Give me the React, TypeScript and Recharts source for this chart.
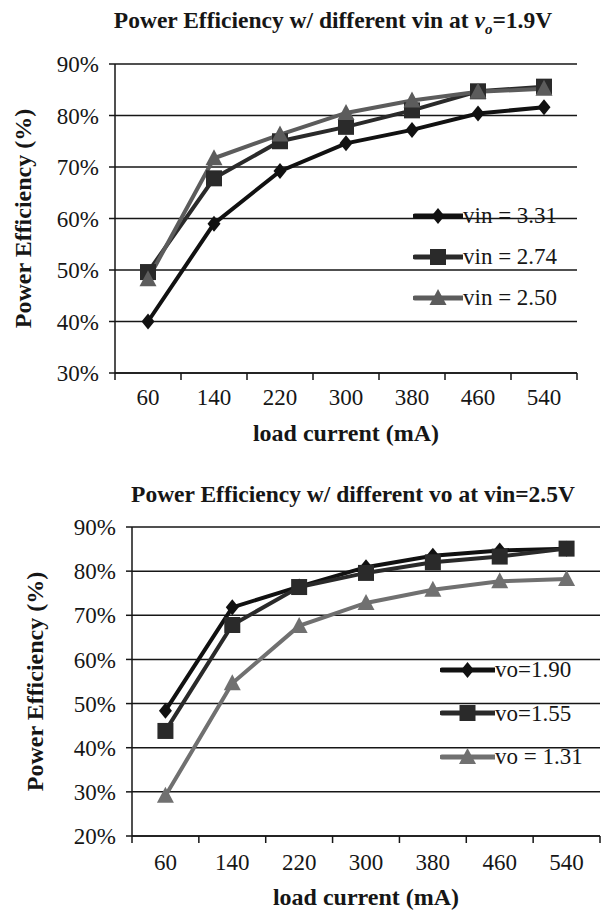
import React from "react";
import { LineChart, Line, XAxis, YAxis, CartesianGrid, Legend } from "recharts";

// load current (mA), category centres and the band edges between them
const loads = [60, 140, 220, 300, 380, 460, 540];
const bandEdges = [20, 100, 180, 260, 340, 420, 500, 580];

// top chart: efficiency (%) for different vin at vo = 1.9V
const vin331 = [40, 59, 69.2, 74.6, 77.2, 80.4, 81.6];
const vin274 = [49.6, 67.8, 75, 77.8, 81, 84.7, 85.6];
const vin250 = [48.2, 71.7, 76.3, 80.5, 82.9, 84.6, 85.2];

// bottom chart: efficiency (%) for different vo at vin = 2.5V
const vo190 = [48.4, 71.8, 76.5, 80.9, 83.5, 84.7, 85.1];
const vo155 = [43.8, 67.8, 76.4, 79.6, 82, 83.3, 85.1];
const vo131 = [29.1, 54.6, 67.6, 72.8, 75.8, 77.7, 78.2];

const topYTicks = [30, 40, 50, 60, 70, 80, 90];
const bottomYTicks = [20, 30, 40, 50, 60, 70, 80, 90];

const FONT = '"Liberation Serif", "Times New Roman", serif';
const INK = "#161616";

type SeriesDef = { key: string; name: string; color: string; shape: "diamond" | "square" | "triangle" };

const topSeries: SeriesDef[] = [
  { key: "a", name: "vin = 3.31", color: "#111111", shape: "diamond" },
  { key: "b", name: "vin = 2.74", color: "#2a2a2a", shape: "square" },
  { key: "c", name: "vin = 2.50", color: "#5c5c5c", shape: "triangle" },
];

const bottomSeries: SeriesDef[] = [
  { key: "a", name: "vo=1.90", color: "#111111", shape: "diamond" },
  { key: "b", name: "vo=1.55", color: "#2a2a2a", shape: "square" },
  { key: "c", name: "vo = 1.31", color: "#707070", shape: "triangle" },
];

const topData = loads.map((load, i) => ({ load, a: vin331[i], b: vin274[i], c: vin250[i] }));
const bottomData = loads.map((load, i) => ({ load, a: vo190[i], b: vo155[i], c: vo131[i] }));

function MarkerShape({ cx, cy, shape, color }: { cx: number; cy: number; shape: string; color: string }) {
  if (cx == null || cy == null) return null;
  if (shape === "diamond") {
    return <polygon points={`${cx},${cy - 8} ${cx + 6.5},${cy} ${cx},${cy + 8} ${cx - 6.5},${cy}`} fill={color} />;
  }
  if (shape === "square") {
    return <rect x={cx - 8} y={cy - 8} width={16} height={16} fill={color} />;
  }
  return <polygon points={`${cx},${cy - 9} ${cx + 8.5},${cy + 7} ${cx - 8.5},${cy + 7}`} fill={color} />;
}

// x axis: labels at band centres, tick marks at band edges
const makeXTick = (labelGap: number) => (props: any) => {
  const { x, y, payload } = props;
  if (bandEdges.includes(payload.value)) {
    return <line x1={x} y1={y} x2={x} y2={y + 7} stroke={INK} strokeWidth={1.5} />;
  }
  return (
    <text x={x} y={y + labelGap} dy="0.35em" textAnchor="middle" fontFamily={FONT} fontSize={23} fill={INK}>
      {payload.value}
    </text>
  );
};

const makeXTitle = (gap: number) => (props: any) => {
  const { viewBox } = props;
  return (
    <text
      x={viewBox.x + viewBox.width / 2}
      y={viewBox.y + gap}
      dy="0.35em"
      textAnchor="middle"
      fontFamily={FONT}
      fontWeight="bold"
      fontSize={24}
      fill={INK}
    >
      load current (mA)
    </text>
  );
};

const makeYTitle = (cx: number) => (props: any) => {
  const { viewBox } = props;
  const cy = viewBox.y + viewBox.height / 2;
  return (
    <text
      x={cx}
      y={cy}
      dy="0.35em"
      transform={`rotate(-90 ${cx} ${cy})`}
      textAnchor="middle"
      fontFamily={FONT}
      fontWeight="bold"
      fontSize={24}
      fill={INK}
    >
      Power  Efficiency (%)
    </text>
  );
};

const makeLegend = (series: SeriesDef[], rowH: number, iconW: number) => () => (
  <div style={{ fontFamily: FONT, fontSize: 23, color: INK }}>
    {series.map((s) => (
      <div key={s.key} style={{ display: "flex", alignItems: "center", height: rowH }}>
        <svg width={iconW} height={20} style={{ display: "block" }}>
          <line x1={2} y1={10} x2={iconW} y2={10} stroke={s.color} strokeWidth={5} strokeLinecap="round" />
          <MarkerShape cx={iconW / 2} cy={10} shape={s.shape} color={s.color} />
        </svg>
        <span style={{ whiteSpace: "pre", lineHeight: 1 }}>{s.name}</span>
      </div>
    ))}
  </div>
);

type ChartProps = {
  data: any[];
  series: SeriesDef[];
  yTicks: number[];
  height: number;
  margin: { top: number; right: number; left: number; bottom: number };
  yAxisWidth: number;
  xAxisHeight: number;
  labelGap: number;
  xTitleGap: number;
  yTitleX: number;
  legendPos: { left: number; top: number };
  legendRow: number;
  legendIcon: number;
};

function EfficiencyChart(p: ChartProps) {
  return (
    <LineChart width={601} height={p.height} data={p.data} margin={p.margin}>
      <CartesianGrid vertical={false} stroke={INK} strokeWidth={1.5} />
      <XAxis
        dataKey="load"
        type="number"
        domain={[bandEdges[0], bandEdges[bandEdges.length - 1]]}
        ticks={[...bandEdges, ...loads].sort((a, b) => a - b)}
        interval={0}
        height={p.xAxisHeight}
        tickLine={false}
        tickSize={0}
        tickMargin={0}
        tick={makeXTick(p.labelGap)}
        axisLine={{ stroke: INK, strokeWidth: 1.5 }}
        label={{ content: makeXTitle(p.xTitleGap) }}
      />
      <YAxis
        type="number"
        domain={[p.yTicks[0], p.yTicks[p.yTicks.length - 1]]}
        ticks={p.yTicks}
        interval={0}
        width={p.yAxisWidth}
        tickSize={6}
        tickMargin={10}
        tickFormatter={(v: number) => `${v}%`}
        tick={{ fontFamily: FONT, fontSize: 23, fill: INK }}
        tickLine={{ stroke: INK, strokeWidth: 1.5 }}
        axisLine={{ stroke: INK, strokeWidth: 1.5 }}
        label={{ content: makeYTitle(p.yTitleX) }}
      />
      <Legend
        layout="vertical"
        align="center"
        verticalAlign="middle"
        content={makeLegend(p.series, p.legendRow, p.legendIcon)}
        wrapperStyle={{ left: p.legendPos.left, top: p.legendPos.top, width: "auto" }}
      />
      {p.series.map((s) => (
        <Line
          key={s.key}
          dataKey={s.key}
          name={s.name}
          stroke={s.color}
          strokeWidth={4}
          isAnimationActive={false}
          dot={(d: any) => <MarkerShape key={`${s.key}-${d.index}`} cx={d.cx} cy={d.cy} shape={s.shape} color={s.color} />}
          activeDot={false}
        />
      ))}
    </LineChart>
  );
}

const titleStyle: React.CSSProperties = {
  position: "absolute",
  fontFamily: FONT,
  fontWeight: "bold",
  fontSize: 23.5,
  color: INK,
  whiteSpace: "nowrap",
  transform: "translate(-50%, -50%)",
  lineHeight: 1,
};

export default function App() {
  return (
    <div style={{ position: "absolute", left: 0, top: 0, width: 601, height: 910, background: "#fff", overflow: "hidden" }}>
      <div style={{ ...titleStyle, left: 333, top: 23 }}>
        Power Efficiency w/ different vin at <i>v</i>
        <sub style={{ fontStyle: "italic", fontSize: 15 }}>o</sub>=1.9V
      </div>
      <div style={{ position: "absolute", left: 0, top: 0 }}>
        <EfficiencyChart
          data={topData}
          series={topSeries}
          yTicks={topYTicks}
          height={455}
          margin={{ top: 64, right: 24, left: 0, bottom: 0 }}
          yAxisWidth={115}
          xAxisHeight={82}
          labelGap={24}
          xTitleGap={60}
          yTitleX={23}
          legendPos={{ left: 413, top: 195 }}
          legendRow={41}
          legendIcon={50}
        />
      </div>
      <div style={{ ...titleStyle, left: 353, top: 495 }}>Power Efficiency w/ different vo at vin=2.5V</div>
      <div style={{ position: "absolute", left: 0, top: 455 }}>
        <EfficiencyChart
          data={bottomData}
          series={bottomSeries}
          yTicks={bottomYTicks}
          height={455}
          margin={{ top: 72, right: 1, left: 0, bottom: 0 }}
          yAxisWidth={132}
          xAxisHeight={74}
          labelGap={26}
          xTitleGap={61}
          yTitleX={35}
          legendPos={{ left: 440, top: 193 }}
          legendRow={43.5}
          legendIcon={55}
        />
      </div>
    </div>
  );
}
